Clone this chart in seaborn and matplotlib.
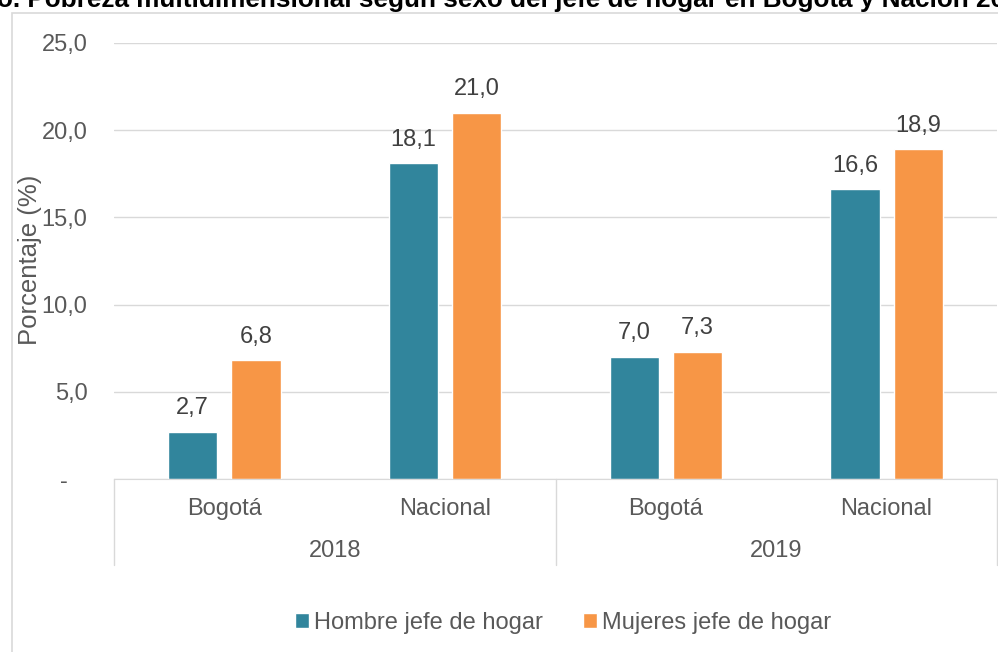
import pandas as pd
import matplotlib.pyplot as plt
import seaborn as sns
from matplotlib.patches import Rectangle
from matplotlib.transforms import blended_transform_factory

# data
years = ['2018', '2018', '2019', '2019']
places = ['Bogotá', 'Nacional', 'Bogotá', 'Nacional']
hombres = [2.7, 18.1, 7.0, 16.6]
mujeres = [6.8, 21.0, 7.3, 18.9]
series_names = ['Hombre jefe de hogar', 'Mujeres jefe de hogar']
y_ticks = [0, 5, 10, 15, 20, 25]
title = 'o. Pobreza multidimensional según sexo del jefe de hogar en Bogotá y Nación 2018-2019'

teal = '#31859C'
orange = '#F79646'
txt = '#595959'
fs = 17

groups = [y + ' ' + p for y, p in zip(years, places)]
df = pd.DataFrame({
    'grupo': groups * 2,
    'sexo': [series_names[0]] * 4 + [series_names[1]] * 4,
    'valor': hombres + mujeres,
})

sns.set_style('white')
plt.rcParams['font.family'] = ['Liberation Sans', 'DejaVu Sans']

fig = plt.figure(figsize=(9.98, 6.52), dpi=100)
W, H = 998, 652
ax = fig.add_axes([114 / W, 1 - 479 / H, 883 / W, 436 / H])

sns.barplot(data=df, x='grupo', y='valor', hue='sexo', order=groups,
            palette=[teal, orange], width=0.573, gap=0.22,
            saturation=1, ax=ax, legend=True)

ax.set_xlim(-0.5, 3.5)
ax.set_ylim(0, 25)
ax.set_yticks(y_ticks)
ax.set_yticklabels([f'{v:.1f}'.replace('.', ',') if v else '-   ' for v in y_ticks])
ax.grid(axis='y', color='#D9D9D9', linewidth=1)
ax.set_axisbelow(True)
for s in ['left', 'right', 'top']:
    ax.spines[s].set_visible(False)
ax.spines['bottom'].set_color('#D9D9D9')
ax.tick_params(axis='y', length=0, pad=19, labelsize=fs, labelcolor=txt)
ax.tick_params(axis='x', length=0, pad=14, labelsize=fs, labelcolor=txt)
ax.set_xticks(range(4))
ax.set_xticklabels(places)
ax.set_xlabel('')
ax.set_ylabel('')

for cont in ax.containers:
    ax.bar_label(cont, labels=[f'{v:.1f}'.replace('.', ',') for v in cont.datavalues],
                 padding=9, fontsize=fs, color='#404040')

# year separators and labels
tr = blended_transform_factory(ax.transData, ax.transAxes)
for xv in [-0.5, 1.5, 3.5]:
    ax.plot([xv, xv], [0, -86 / 436], transform=tr, color='#D9D9D9',
            linewidth=1, clip_on=False)
for xv, yr in [(0.5, '2018'), (2.5, '2019')]:
    ax.text(xv, -72 / 436, yr, transform=tr, ha='center', va='center',
            fontsize=fs, color=txt)

handles, labels = ax.get_legend_handles_labels()
ax.legend_.remove()
fig.legend(handles, labels, loc='center', bbox_to_anchor=(563 / W, 1 - 623 / H),
           ncol=2, frameon=False, fontsize=fs, handlelength=0.6, handleheight=0.6,
           handletextpad=0.2, columnspacing=1.7, labelcolor=txt)

fig.text(30 / W, 1 - 260 / H, 'Porcentaje (%)', rotation=90, ha='center',
         va='center', fontsize=18.5, color=txt)

# chart border and clipped title
fig.patches.append(Rectangle((12 / W, -0.1), 1.1, 1 - 13 / H + 0.1,
                             transform=fig.transFigure, fill=False,
                             edgecolor='#D9D9D9', linewidth=1.2))
fig.text(-0.003, 1 - 7 / H, title, ha='left', va='baseline', fontsize=18.8,
         fontweight='bold', color='black')

fig.savefig('out.png', dpi=100)
